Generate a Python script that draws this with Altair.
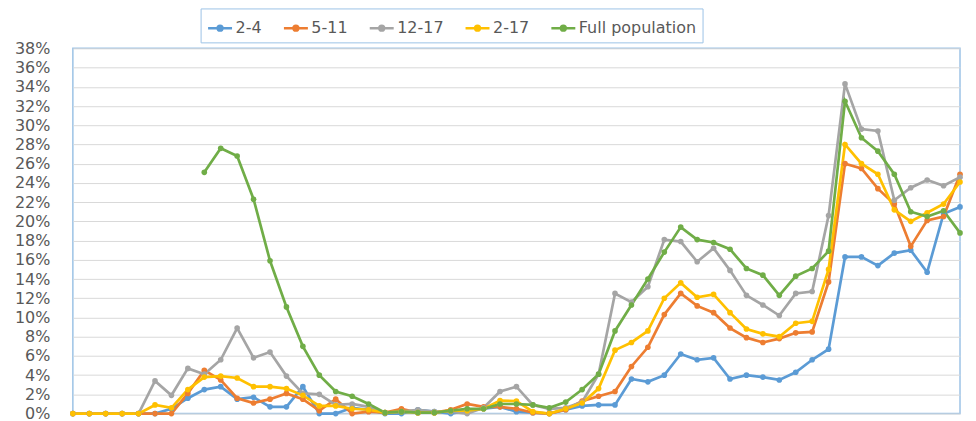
import altair as alt
import pandas as pd

# x positions (period index) and series values in percent
period = list(range(55))
series_names = ["2-4", "5-11", "12-17", "2-17", "Full population"]
series_colors = ["#5B9BD5", "#ED7D31", "#A5A5A5", "#FFC000", "#70AD47"]

s_2_4 = [0, 0, 0, 0, 0, 0, 0.5, 1.6, 2.5, 2.8, 1.5, 1.7, 0.7, 0.7, 2.8, 0, 0, 0.6, 0.4, 0,
         0, 0.4, 0.2, 0, 0.3, 0.5, 0.7, 0.2, 0.1, 0, 0.4, 0.8, 0.9, 0.9, 3.6, 3.3, 4.0, 6.2, 5.6, 5.8,
         3.6, 4.0, 3.8, 3.5, 4.3, 5.6, 6.7, 16.3, 16.3, 15.4, 16.7, 17.0, 14.7, 20.8, 21.5]
s_5_11 = [0, 0, 0, 0, 0, 0, 0, 2.1, 4.5, 3.5, 1.6, 1.1, 1.5, 2.1, 1.5, 0.3, 1.5, 0.0, 0.2, 0.1,
          0.5, 0.1, 0.1, 0.4, 1.0, 0.7, 0.7, 0.5, 0.1, 0, 0.4, 1.3, 1.8, 2.3, 4.9, 6.9, 10.3, 12.5, 11.2, 10.5,
          8.9, 7.9, 7.4, 7.8, 8.4, 8.5, 13.7, 26.0, 25.5, 23.4, 21.8, 17.4, 20.1, 20.5, 24.9]
s_12_17 = [0, 0, 0, 0, 0, 3.4, 1.9, 4.7, 4.1, 5.6, 8.9, 5.8, 6.4, 3.9, 2.1, 2.0, 0.9, 1.0, 0.7, 0.1,
           0.2, 0.4, 0.2, 0.2, 0.0, 0.6, 2.3, 2.8, 0.9, 0.5, 0.6, 1.2, 4.1, 12.5, 11.6, 13.2, 18.1, 17.9, 15.8, 17.2,
           14.9, 12.3, 11.3, 10.2, 12.5, 12.7, 20.6, 34.3, 29.6, 29.4, 22.2, 23.5, 24.3, 23.7, 24.6]
s_2_17 = [0, 0, 0, 0, 0, 0.9, 0.6, 2.5, 3.8, 3.9, 3.7, 2.8, 2.8, 2.6, 1.9, 0.8, 0.8, 0.5, 0.4, 0.1,
          0.2, 0.1, 0.1, 0.3, 0.3, 0.5, 1.35, 1.3, 0.2, 0, 0.5, 1.1, 2.6, 6.6, 7.4, 8.6, 12.0, 13.6, 12.1, 12.4,
          10.5, 8.8, 8.3, 8.0, 9.4, 9.6, 15.0, 28.0, 26.0, 24.9, 21.2, 20.0, 20.9, 21.8, 24.1]
s_full = [None, None, None, None, None, None, None, None, 25.1, 27.6, 26.8, 22.3, 15.9, 11.1, 7.0, 4.0, 2.3, 1.8, 1.0, 0.1,
          0.2, 0.1, 0.1, 0.3, 0.5, 0.5, 1.0, 1.0, 0.9, 0.6, 1.2, 2.5, 4.1, 8.6, 11.3, 14.0, 16.8, 19.4, 18.1, 17.8,
          17.1, 15.1, 14.4, 12.3, 14.3, 15.1, 16.9, 32.5, 28.7, 27.3, 24.9, 21.0, 20.5, 21.1, 18.8]

y_ticks = list(range(0, 40, 2))

rows = []
for name, vals in zip(series_names, [s_2_4, s_5_11, s_12_17, s_2_17, s_full]):
    for i, v in zip(period, vals):
        if v is not None:
            rows.append({"period": i, "series": name, "value": v})
df = pd.DataFrame(rows)

legend_path = "M-1,0L1,0M-0.2,0A0.2,0.2,0,1,1,0.2,0A0.2,0.2,0,1,1,-0.2,0Z"

color = alt.Color(
    "series:N",
    scale=alt.Scale(domain=series_names, range=series_colors),
    legend=alt.Legend(
        title=None, orient="none", direction="horizontal",
        legendX=128, legendY=-40,
        symbolType=legend_path, symbolSize=576, symbolStrokeWidth=2.5,
        labelFont="DejaVu Sans", labelFontSize=16, labelColor="#595959",
        columnPadding=16, labelOffset=2, padding=6,
        strokeColor="#9DC3E6",
    ),
)

base = alt.Chart(df).encode(
    x=alt.X("period:Q", scale=alt.Scale(domain=[0, 54], nice=False, zero=False), axis=None),
    y=alt.Y(
        "value:Q",
        scale=alt.Scale(domain=[0, 38], nice=False),
        axis=alt.Axis(
            values=y_ticks, labelExpr="datum.value + '%'", title=None,
            domain=False, ticks=False, labelPadding=23,
            labelFont="DejaVu Sans", labelFontSize=16, labelColor="#595959",
            gridColor="#D9D9D9", gridWidth=1,
        ),
    ),
    color=color,
)

lines = base.mark_line(strokeWidth=2.7)
pts = base.mark_point(filled=True, size=32, opacity=1)

chart = alt.layer(lines, pts).properties(
    width=889, height=366,
    padding={"left": 65, "top": 40, "right": 8, "bottom": 10},
    autosize=alt.AutoSizeParams(type="none"),
).configure_view(stroke="#9DC3E6", strokeWidth=1.5)

chart.save("out.html", embed_options={"renderer": "svg", "actions": False})
